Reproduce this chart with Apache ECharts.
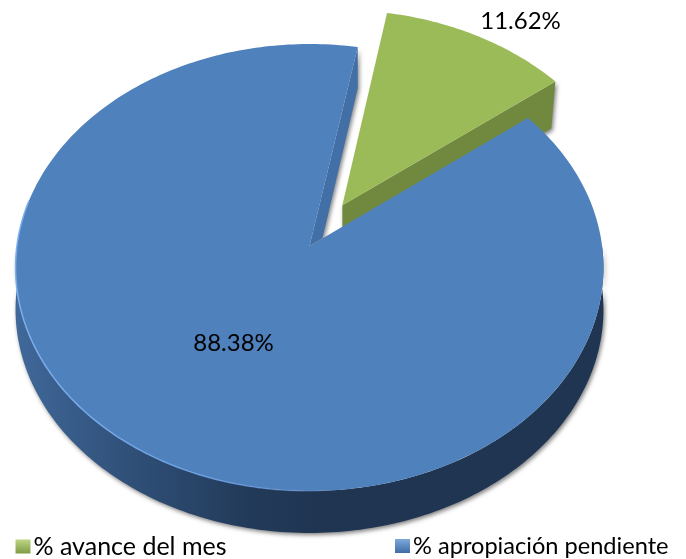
<!DOCTYPE html>
<html><head><meta charset="utf-8">
<style>html,body{margin:0;padding:0;background:#fff}#c{width:686px;height:559px}</style>
<script src="https://cdn.jsdelivr.net/npm/echarts@6/dist/echarts.min.js"></script>
</head><body><div id="c"></div>
<script>
const categories = ['% avance del mes', '% apropiación pendiente'];
const values = [11.62, 88.38];
const labels = ['11.62%', '88.38%'];

const FONT = 'Lato, Carlito, sans-serif';
const apex = {x: 309.5, y: 246};
const persp = {R: 292.6, h: 221.4, k: 0.0962};
const startDeg = 10.4, depth = 42;
const explode = [0.22, 0];
const labelAt = [[520.5, 21], [233.5, 343.5]];
const total = values.reduce((a, b) => a + b, 0);

function project(dx, dy) {
  const w = 1 + persp.k * dy;
  return [apex.x + persp.R * dx / w, apex.y - persp.h * dy / w];
}
function sliceRange(i) {
  let a = startDeg;
  for (let j = 0; j < i; j++) a += values[j] / total * 360;
  return [a, a + values[i] / total * 360];
}
function geom(i) {
  const [a0, a1] = sliceRange(i);
  const mid = (a0 + a1) / 2 * Math.PI / 180;
  const ox = explode[i] * Math.sin(mid), oy = explode[i] * Math.cos(mid);
  const P = deg => {
    const t = deg * Math.PI / 180;
    return project(ox + Math.sin(t), oy + Math.cos(t));
  };
  const arc = (from, to) => {
    const n = Math.max(2, Math.ceil(Math.abs(to - from)));
    const pts = [];
    for (let s = 0; s <= n; s++) pts.push(P(from + (to - from) * s / n));
    return pts;
  };
  return {a0, a1, center: project(ox, oy), arc, P};
}
const down = pts => pts.map(p => [p[0], p[1] + depth]);
const shadow = {shadowBlur: 4, shadowColor: 'rgba(0,0,0,0.5)', shadowOffsetX: 1.5, shadowOffsetY: 2};
const hGrad = stops => ({type: 'linear', x: 0, y: 0, x2: 1, y2: 0,
  colorStops: stops.map(s => ({offset: s[0], color: s[1]}))});

function renderSlice(i) {
  const g = geom(i), c = g.center;
  const top = g.arc(g.a0, g.a1);
  const kids = [];
  if (i === 0) {
    const end = g.P(g.a1);
    const q = [c, end, [end[0] - 4, end[1] + depth + 5], [c[0], c[1] + depth]];
    kids.push({type: 'polygon', shape: {points: q},
      style: Object.assign({fill: '#71893f'}, shadow)});
    kids.push({type: 'polygon', shape: {points: [c].concat(top)},
      style: {fill: '#9bbb59'}});
  } else {
    const st = g.P(g.a1);
    kids.push({type: 'polygon', shape: {points: [c, st, [st[0], st[1] + depth - 1], [c[0] + 13, c[1] - 8]]},
      style: Object.assign({fill: '#426fa5'}, shadow)});
    const wall = g.arc(90, 270);
    kids.push({type: 'polygon', shape: {points: wall.concat(down(wall).reverse())},
      style: Object.assign({fill: hGrad([[0, '#40689a'], [0.2, '#2f4f77'], [0.4, '#223a59'], [0.52, '#1f3552'], [1, '#1f3552']])}, shadow)});
    kids.push({type: 'polygon', shape: {points: [c].concat(top)},
      style: {fill: '#4f81bd'}});
    kids.push({type: 'polyline', shape: {points: g.arc(178, 282)},
      style: {fill: 'none', lineWidth: 1.5, stroke: hGrad([[0, '#7fb0ee'], [0.6, '#6c9fe0'], [1, 'rgba(110,160,225,0.2)'] ])}});
  }
  kids.push({type: 'text', style: {text: labels[i], x: labelAt[i][0], y: labelAt[i][1],
    align: 'center', verticalAlign: 'middle', font: '24px ' + FONT, fill: '#000'}});
  return {type: 'group', children: kids};
}

const iconFill = (a, b) => ({type: 'linear', x: 0, y: 0, x2: 0, y2: 1,
  colorStops: [{offset: 0, color: a}, {offset: 1, color: b}]});
const legendFor = (i, left, size, a, b) => ({
  data: [{name: categories[i], icon: 'rect', itemStyle: {color: iconFill(a, b)}}],
  left: left, top: 529, itemWidth: 15, itemHeight: 14, itemGap: 4,
  textStyle: {fontFamily: FONT, fontSize: size, color: '#000', padding: [0, 0, 0, -2]}
});

const chart = echarts.init(document.getElementById('c'), null, {renderer: 'canvas'});
chart.setOption({
  animation: false,
  backgroundColor: '#fff',
  legend: [legendFor(0, 10.5, 25, '#bdd584', '#7f9c45'), legendFor(1, 390, 23.6, '#7fa8da', '#3f6da5')],
  series: categories.map((name, i) => ({
    type: 'custom', name: name, coordinateSystem: 'none', silent: true,
    data: [[values[i]]],
    z: i,
    renderItem: () => renderSlice(i)
  }))
});
</script></body></html>
